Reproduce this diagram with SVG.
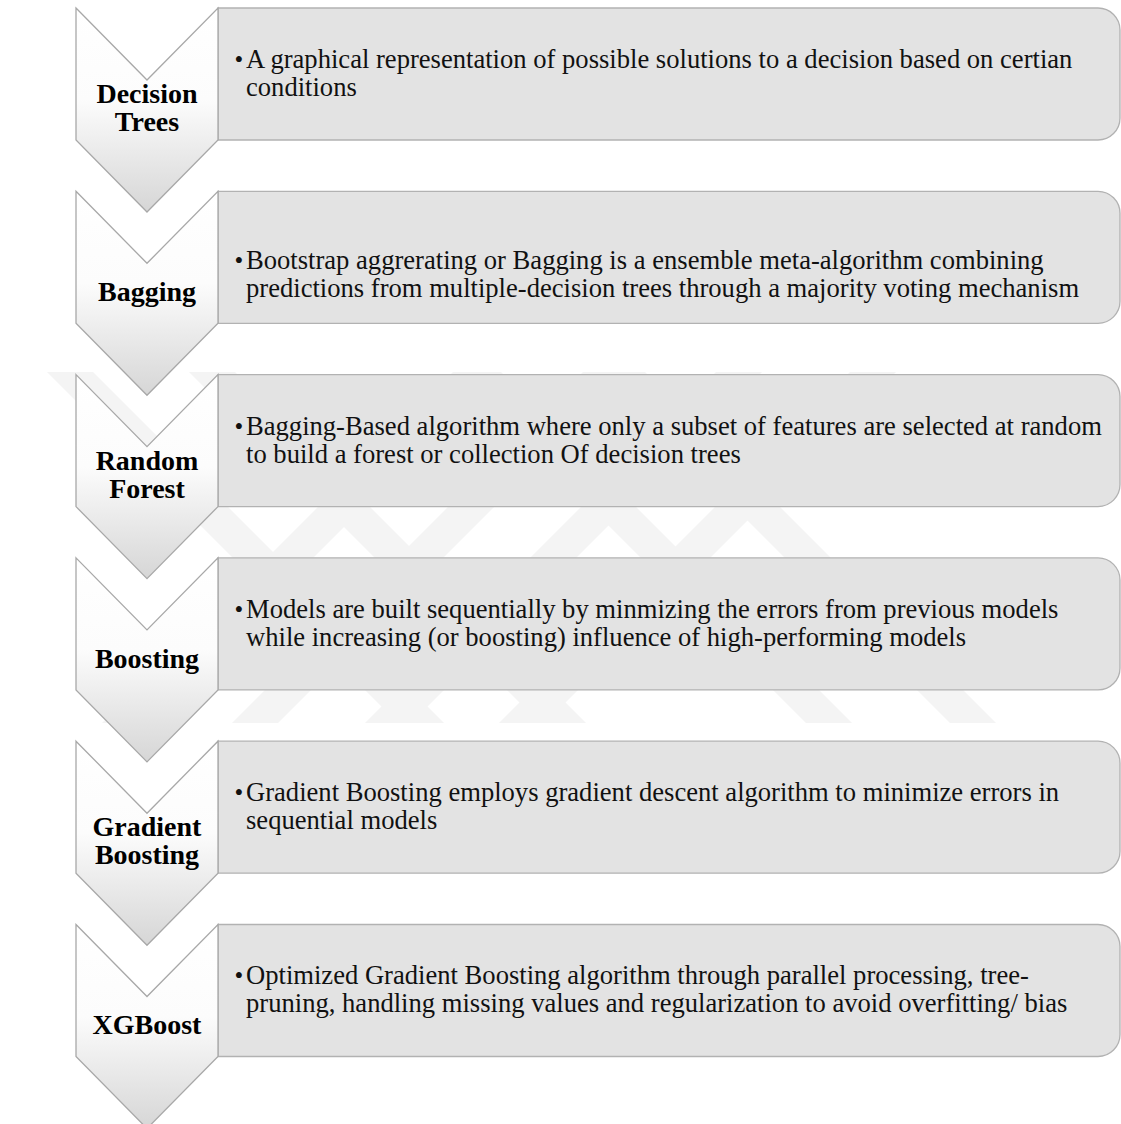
<svg xmlns="http://www.w3.org/2000/svg" width="1121" height="1124" viewBox="0 0 1121 1124">
  <defs>
    <linearGradient id="chevFill" x1="0" y1="0" x2="0" y2="1">
      <stop offset="0" stop-color="#ffffff"/>
      <stop offset="0.45" stop-color="#fcfcfc"/>
      <stop offset="1" stop-color="#d6d6d6"/>
    </linearGradient>
    <clipPath id="wmClip">
      <rect x="0" y="372" width="1121" height="351"/>
    </clipPath>
    <style>
      .chev { fill: url(#chevFill); stroke: #a8a8a8; stroke-width: 1.3; }
      .box { fill: #e3e3e3; stroke: #b2b2b2; stroke-width: 1.3; }
      .label { font-family: "Liberation Serif", "Times New Roman", serif; font-weight: bold; font-size: 28px; fill: #000; text-anchor: middle; }
      .desc { font-family: "Liberation Serif", "Times New Roman", serif; font-size: 26.6px; fill: #111; }
      .bullet { font-family: "Liberation Serif", "Times New Roman", serif; font-size: 25px; fill: #111; text-anchor: middle; }
    </style>
  </defs>

  <rect width="1121" height="1124" fill="#ffffff"/>

  <!-- faint background emblem: diagonal bands -->
  <g id="watermark" clip-path="url(#wmClip)" opacity="0.04" fill="#000">
    <polygon points="495,330 541,330 148,723 102,723"/>
    <polygon points="625,330 671,330 278,723 232,723"/>
    <polygon points="758,330 804,330 411,723 365,723"/>
    <polygon points="892,330 938,330 545,723 499,723"/>
    <polygon points="5,330 51,330 444,723 398,723"/>
    <polygon points="147,330 193,330 586,723 540,723"/>
    <polygon points="413,330 459,330 852,723 806,723"/>
    <polygon points="557,330 603,330 996,723 950,723"/>
  </g>

  <!-- step 1 -->
  <g id="step-decision-trees">
    <path class="box" d="M218,8 H1098 A22,22 0 0 1 1120,30 V118 A22,22 0 0 1 1098,140 H218 Z"/>
    <polygon class="chev" points="76,8 147,80 218,8 218,140 147,212 76,140"/>
    <text class="label" x="147" y="103">Decision</text>
    <text class="label" x="147" y="131">Trees</text>
    <text class="bullet" x="239" y="68">•</text>
    <text class="desc" x="246" y="68">A graphical representation of possible solutions to a decision based on certian</text>
    <text class="desc" x="246" y="96">conditions</text>
  </g>

  <!-- step 2 -->
  <g id="step-bagging">
    <path class="box" d="M218,191.3 H1098 A22,22 0 0 1 1120,213.3 V301.3 A22,22 0 0 1 1098,323.3 H218 Z"/>
    <polygon class="chev" points="76,191.3 147,263.3 218,191.3 218,323.3 147,395.3 76,323.3"/>
    <text class="label" x="147" y="301">Bagging</text>
    <text class="bullet" x="239" y="269">•</text>
    <text class="desc" x="246" y="269">Bootstrap aggrerating or Bagging is a ensemble meta-algorithm combining</text>
    <text class="desc" x="246" y="297">predictions from multiple-decision trees through a majority voting mechanism</text>
  </g>

  <!-- step 3 -->
  <g id="step-random-forest">
    <path class="box" d="M218,374.6 H1098 A22,22 0 0 1 1120,396.6 V484.6 A22,22 0 0 1 1098,506.6 H218 Z"/>
    <polygon class="chev" points="76,374.6 147,446.6 218,374.6 218,506.6 147,578.6 76,506.6"/>
    <text class="label" x="147" y="470">Random</text>
    <text class="label" x="147" y="498">Forest</text>
    <text class="bullet" x="239" y="435">•</text>
    <text class="desc" x="246" y="435">Bagging-Based algorithm where only a subset of features are selected at random</text>
    <text class="desc" x="246" y="463">to build a forest or collection Of decision trees</text>
  </g>

  <!-- step 4 -->
  <g id="step-boosting">
    <path class="box" d="M218,557.9 H1098 A22,22 0 0 1 1120,579.9 V667.9 A22,22 0 0 1 1098,689.9 H218 Z"/>
    <polygon class="chev" points="76,557.9 147,629.9 218,557.9 218,689.9 147,761.9 76,689.9"/>
    <text class="label" x="147" y="668">Boosting</text>
    <text class="bullet" x="239" y="618">•</text>
    <text class="desc" x="246" y="618">Models are built sequentially by minmizing the errors from previous models</text>
    <text class="desc" x="246" y="646">while increasing (or boosting) influence of high-performing models</text>
  </g>

  <!-- step 5 -->
  <g id="step-gradient-boosting">
    <path class="box" d="M218,741.2 H1098 A22,22 0 0 1 1120,763.2 V851.2 A22,22 0 0 1 1098,873.2 H218 Z"/>
    <polygon class="chev" points="76,741.2 147,813.2 218,741.2 218,873.2 147,945.2 76,873.2"/>
    <text class="label" x="147" y="836">Gradient</text>
    <text class="label" x="147" y="864">Boosting</text>
    <text class="bullet" x="239" y="801">•</text>
    <text class="desc" x="246" y="801">Gradient Boosting employs gradient descent algorithm to minimize errors in</text>
    <text class="desc" x="246" y="829">sequential models</text>
  </g>

  <!-- step 6 -->
  <g id="step-xgboost">
    <path class="box" d="M218,924.5 H1098 A22,22 0 0 1 1120,946.5 V1034.5 A22,22 0 0 1 1098,1056.5 H218 Z"/>
    <polygon class="chev" points="76,924.5 147,996.5 218,924.5 218,1056.5 147,1128.5 76,1056.5"/>
    <text class="label" x="147" y="1034">XGBoost</text>
    <text class="bullet" x="239" y="984">•</text>
    <text class="desc" x="246" y="984">Optimized Gradient Boosting algorithm through parallel processing, tree-</text>
    <text class="desc" x="246" y="1012">pruning, handling missing values and regularization to avoid overfitting/ bias</text>
  </g>

  <!-- the steps are linked by the chevrons themselves -->
  <g id="connectors"/>
</svg>
